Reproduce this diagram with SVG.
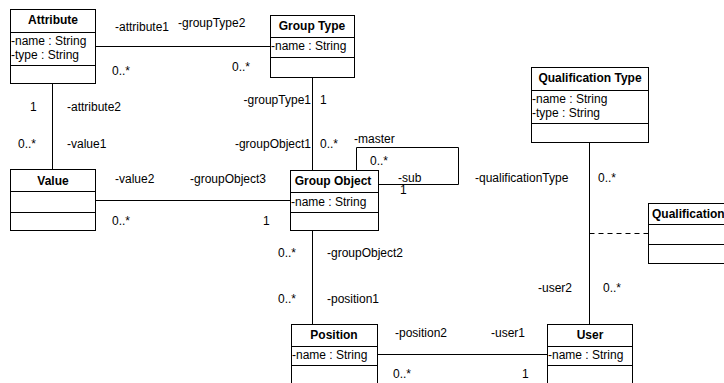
<svg xmlns="http://www.w3.org/2000/svg" width="724" height="383" viewBox="0 0 724 383">
<style>
  .box { fill: #ffffff; stroke: #000000; stroke-width: 1; }
  .sep { stroke: #000000; stroke-width: 1; }
  .conn { fill: none; stroke: #000000; stroke-width: 1; }
  .dash { fill: none; stroke: #000000; stroke-width: 1; stroke-dasharray: 5 4; }
  text { font-family: "Liberation Sans", Arial, sans-serif; font-size: 12px; fill: #000000; }
  .title { font-weight: bold; text-anchor: middle; }
  .end { text-anchor: end; }
</style>
<rect width="724" height="383" fill="#ffffff"/>

<g id="connectors">
  <line class="conn" x1="95.5" y1="46.5" x2="270.5" y2="46.5"/>
  <line class="conn" x1="52.5" y1="84" x2="52.5" y2="169"/>
  <line class="conn" x1="312.5" y1="77" x2="312.5" y2="170"/>
  <line class="conn" x1="95.5" y1="200.5" x2="290.5" y2="200.5"/>
  <polyline class="conn" points="356.5,170 356.5,147.5 458.5,147.5 458.5,184.5 378.5,184.5"/>
  <line class="conn" x1="312.5" y1="230" x2="312.5" y2="324"/>
  <line class="conn" x1="589.5" y1="142" x2="589.5" y2="324"/>
  <line class="dash" x1="589.5" y1="233.5" x2="648.5" y2="233.5"/>
  <line class="conn" x1="377.5" y1="354.5" x2="547.5" y2="354.5"/>
</g>

<g id="labels">
  <text x="115" y="31">-attribute1</text>
  <text x="178" y="27">-groupType2</text>
  <text x="112" y="75">0..*</text>
  <text x="232" y="71">0..*</text>
  <text x="30" y="111">1</text>
  <text x="67" y="111">-attribute2</text>
  <text class="end" x="311" y="104">-groupType1</text>
  <text x="320" y="104">1</text>
  <text x="18" y="148">0..*</text>
  <text x="67" y="148">-value1</text>
  <text class="end" x="311" y="148">-groupObject1</text>
  <text x="320" y="148">0..*</text>
  <text x="354" y="143">-master</text>
  <text x="370" y="165">0..*</text>
  <text x="398" y="182">-sub</text>
  <text x="400" y="194" font-size="11">1</text>
  <text x="115" y="183">-value2</text>
  <text x="190" y="183">-groupObject3</text>
  <text x="112" y="225">0..*</text>
  <text x="263" y="225">1</text>
  <text x="475" y="182">-qualificationType</text>
  <text x="598" y="182">0..*</text>
  <text x="278" y="257">0..*</text>
  <text x="327" y="257">-groupObject2</text>
  <text x="278" y="303">0..*</text>
  <text x="327" y="303">-position1</text>
  <text x="538" y="292">-user2</text>
  <text x="603" y="292">0..*</text>
  <text x="395" y="337">-position2</text>
  <text x="491" y="337">-user1</text>
  <text x="393" y="378">0..*</text>
  <text x="522" y="378">1</text>
</g>

<g id="attribute">
  <rect class="box" x="10.5" y="9.5" width="85" height="74"/>
  <line class="sep" x1="10.5" y1="32.5" x2="95.5" y2="32.5"/>
  <line class="sep" x1="10.5" y1="65.5" x2="95.5" y2="65.5"/>
  <text class="title" x="53" y="24">Attribute</text>
  <text x="11" y="45">-name : String</text>
  <text x="11" y="59">-type : String</text>
</g>

<g id="group-type">
  <rect class="box" x="270.5" y="15.5" width="84" height="62"/>
  <line class="sep" x1="270.5" y1="37.5" x2="354.5" y2="37.5"/>
  <line class="sep" x1="270.5" y1="57.5" x2="354.5" y2="57.5"/>
  <text class="title" x="312" y="30">Group Type</text>
  <text x="271" y="50">-name : String</text>
</g>

<g id="value">
  <rect class="box" x="10.5" y="169.5" width="85" height="61"/>
  <line class="sep" x1="10.5" y1="191.5" x2="95.5" y2="191.5"/>
  <line class="sep" x1="10.5" y1="212.5" x2="95.5" y2="212.5"/>
  <text class="title" x="53" y="185">Value</text>
</g>

<g id="group-object">
  <rect class="box" x="290.5" y="170.5" width="88" height="60"/>
  <line class="sep" x1="290.5" y1="192.5" x2="378.5" y2="192.5"/>
  <line class="sep" x1="290.5" y1="212.5" x2="378.5" y2="212.5"/>
  <text class="title" x="333" y="185">Group Object</text>
  <text x="291" y="206">-name : String</text>
</g>

<g id="qualification-type">
  <rect class="box" x="531.5" y="67.5" width="117" height="75"/>
  <line class="sep" x1="531.5" y1="90.5" x2="648.5" y2="90.5"/>
  <line class="sep" x1="531.5" y1="123.5" x2="648.5" y2="123.5"/>
  <text class="title" x="590" y="82">Qualification Type</text>
  <text x="532" y="103">-name : String</text>
  <text x="532" y="117">-type : String</text>
</g>

<g id="qualification">
  <rect class="box" x="648.5" y="203.5" width="100" height="60"/>
  <line class="sep" x1="648.5" y1="224.5" x2="748.5" y2="224.5"/>
  <line class="sep" x1="648.5" y1="244.5" x2="748.5" y2="244.5"/>
  <text x="652" y="218" font-weight="bold">Qualification</text>
</g>

<g id="position">
  <rect class="box" x="291.5" y="324.5" width="86" height="70"/>
  <line class="sep" x1="291.5" y1="346.5" x2="377.5" y2="346.5"/>
  <line class="sep" x1="291.5" y1="365.5" x2="377.5" y2="365.5"/>
  <text class="title" x="334" y="339">Position</text>
  <text x="292" y="359">-name : String</text>
</g>

<g id="user">
  <rect class="box" x="547.5" y="324.5" width="85" height="70"/>
  <line class="sep" x1="547.5" y1="346.5" x2="632.5" y2="346.5"/>
  <line class="sep" x1="547.5" y1="365.5" x2="632.5" y2="365.5"/>
  <text class="title" x="590" y="339">User</text>
  <text x="548" y="359">-name : String</text>
</g>
</svg>
